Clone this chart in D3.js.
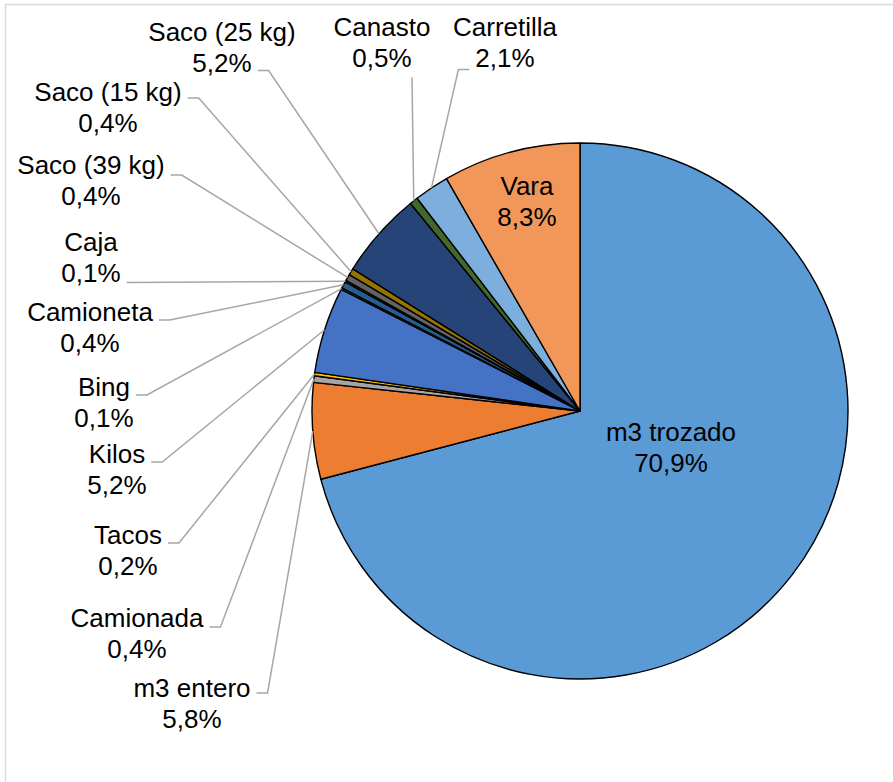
<!DOCTYPE html>
<html>
<head>
<meta charset="utf-8">
<script src="https://cdn.jsdelivr.net/npm/d3@7"></script>
<style>
  html, body { margin: 0; padding: 0; background: #fff; }
  svg { display: block; }
  text { font-family: "Liberation Sans", Arial, sans-serif; font-size: 26px; fill: #000; }
</style>
</head>
<body>
<svg id="chart" width="893" height="782"></svg>
<script>
// Units of measure and their share of the total (%)
const categories = ["m3 trozado", "m3 entero", "Camionada", "Tacos", "Kilos", "Bing", "Camioneta",
  "Caja", "Saco (39 kg)", "Saco (15 kg)", "Saco (25 kg)", "Canasto", "Carretilla", "Vara"];
const shares = [70.9, 5.8, 0.4, 0.2, 5.2, 0.1, 0.4, 0.1, 0.4, 0.4, 5.2, 0.5, 2.1, 8.3];
const sliceColors = ["#5B9BD5", "#ED7D31", "#A5A5A5", "#FFC000", "#4472C4", "#70AD47", "#255E91",
  "#9E480E", "#636363", "#997300", "#264478", "#43682B", "#7CAFDD", "#F1975A"];

// Label placement: centre x, first-line centre y, where the leader attaches
// side: "right"/"left" of the given line, "below" = from under the label, "inside" = no leader
const labelLayout = {
  "m3 trozado":   { x: 671, y: 432, side: "inside" },
  "Vara":         { x: 527, y: 186, side: "inside" },
  "Carretilla":   { x: 505, y: 27,  side: "left",  line: 2, dy: 12 },
  "Canasto":      { x: 382, y: 27,  side: "below", ox: 30, oy: 20 },
  "Saco (25 kg)": { x: 222, y: 32,  side: "right", line: 2, dy: 8 },
  "Saco (15 kg)": { x: 108, y: 92,  side: "right", line: 1, dy: 6 },
  "Saco (39 kg)": { x: 91,  y: 165, side: "right", line: 1, dy: 10 },
  "Caja":         { x: 91,  y: 242, side: "right", line: 2, dy: 10, straight: true },
  "Camioneta":    { x: 90,  y: 312, side: "right", line: 1, dy: 8 },
  "Bing":         { x: 104, y: 387, side: "right", line: 1, dy: 8 },
  "Kilos":        { x: 117, y: 454, side: "right", line: 1, dy: 8 },
  "Tacos":        { x: 128, y: 535, side: "right", line: 1, dy: 8 },
  "Camionada":    { x: 137, y: 618, side: "right", line: 1, dy: 9 },
  "m3 entero":    { x: 192, y: 688, side: "right", line: 1, dy: 5 }
};

const W = 893, H = 782;
const cx = 580, cy = 411, R = 268;
const lineGap = 30.5;

const svg = d3.select("#chart");

// chart area border
svg.append("rect")
  .attr("x", 5.5).attr("y", 4.5)
  .attr("width", W + 20).attr("height", H + 20)
  .attr("fill", "#fff").attr("stroke", "#d9d9d9").attr("stroke-width", 1.5);

const data = categories.map((c, i) => ({ name: c, value: shares[i], color: sliceColors[i] }));
const fmt = v => d3.format(".1f")(v).replace(".", ",") + "%";

const pie = d3.pie().sort(null).value(d => d.value).startAngle(0).endAngle(2 * Math.PI);
const arcs = pie(data);
const arc = d3.arc().innerRadius(0).outerRadius(R);

const g = svg.append("g").attr("transform", `translate(${cx},${cy})`);
g.selectAll("path.slice")
  .data(arcs)
  .join("path")
  .attr("class", "slice")
  .attr("d", arc)
  .attr("fill", d => d.data.color)
  .attr("stroke", "#000")
  .attr("stroke-width", 1.4)
  .attr("stroke-linejoin", "round");

// labels and leader lines
const leaders = svg.append("g");
const labels = svg.append("g");

arcs.forEach(a => {
  const L = labelLayout[a.data.name];
  const t = labels.append("text")
    .attr("text-anchor", "middle")
    .attr("dominant-baseline", "central");
  const l1 = t.append("tspan").attr("x", L.x).attr("y", L.y).text(a.data.name);
  const l2 = t.append("tspan").attr("x", L.x).attr("y", L.y + lineGap).text(fmt(a.data.value));
  if (L.side === "inside") return;

  const mid = (a.startAngle + a.endAngle) / 2;
  const px = cx + R * Math.sin(mid), py = cy - R * Math.cos(mid);
  const span = L.line === 2 ? l2 : l1;
  const w = span.node().getComputedTextLength();
  const ly = (L.line === 2 ? L.y + lineGap : L.y) + (L.dy || 0);
  let pts;
  if (L.side === "right") {
    const x0 = L.x + w / 2 + 6;
    pts = L.straight ? [[x0, ly], [px, py]] : [[x0, ly], [x0 + 11, ly], [px, py]];
  } else if (L.side === "left") {
    const x0 = L.x - w / 2 - 6;
    pts = [[x0, ly], [x0 - 11, ly], [px, py]];
  } else {
    const sy = L.y + lineGap + L.oy;
    pts = [[L.x + L.ox, sy], [px, py]];
  }
  leaders.append("path")
    .attr("d", d3.line()(pts))
    .attr("fill", "none")
    .attr("stroke", "#a6a6a6")
    .attr("stroke-width", 1.5);
});
</script>
</body>
</html>
